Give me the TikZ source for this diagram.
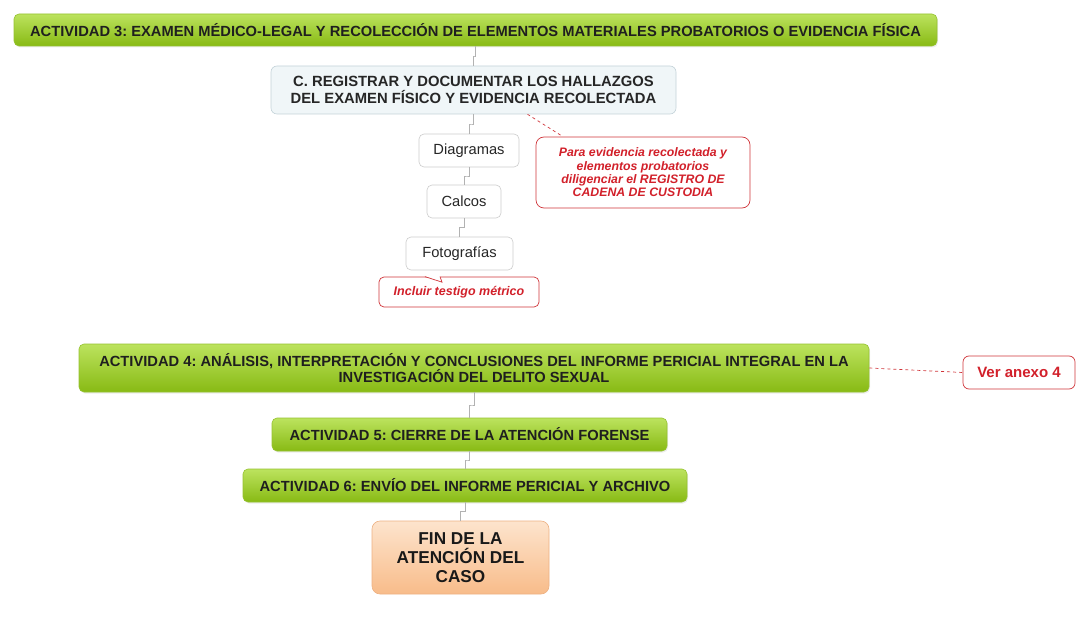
\documentclass[tikz,border=0pt]{standalone}
\usepackage{fontspec}
\setmainfont{Liberation Sans}
\usetikzlibrary{calc,shadows}
\definecolor{gtop}{HTML}{BCE35E}
\definecolor{gmid}{HTML}{9DCB20}
\definecolor{gbot}{HTML}{88BA14}
\definecolor{gline}{HTML}{95C230}
\definecolor{rline}{HTML}{D0353A}
\definecolor{rtext}{HTML}{D2202A}
\definecolor{cfill}{HTML}{F0F6F8}
\definecolor{cline}{HTML}{C3D2D8}
\definecolor{otop}{HTML}{FDE4CD}
\definecolor{obot}{HTML}{F8BC8A}
\definecolor{oline}{HTML}{EDB183}
\tikzset{
  greenbox/.style={draw=gline, rounded corners=5pt, top color=gtop, middle color=gmid, bottom color=gbot, line width=0.6pt,
    inner sep=0pt, align=center, font=\fontsize{14.7}{16.5}\selectfont\bfseries, text=black!88,
    drop shadow={opacity=0.15, shadow xshift=1pt, shadow yshift=-1.5pt}},
  whitebox/.style={draw=black!20, rounded corners=5pt, fill=white, line width=0.6pt,
    inner sep=0pt, align=center, font=\fontsize{14.7}{17}\selectfont, text=black!85},
  subbox/.style={draw=cline, rounded corners=6pt, fill=cfill, line width=0.6pt,
    inner sep=0pt, align=center, font=\fontsize{14.8}{16.5}\selectfont\bfseries, text=black!85},
  redbox/.style={draw=rline, rounded corners=8pt, fill=white, line width=0.7pt,
    inner sep=0pt, align=center, text=rtext},
  finbox/.style={draw=oline, rounded corners=8pt, top color=otop, bottom color=obot, line width=0.6pt,
    inner sep=0pt, align=center, font=\fontsize{17.2}{19}\selectfont\bfseries, text=black!90},
  conn/.style={draw=black!30, line width=0.6pt},
  rdash/.style={draw=rline, dashed, line width=0.7pt},
}
\begin{document}
\frenchspacing
\begin{tikzpicture}[x=1pt,y=-1pt]
\useasboundingbox (0,0) rectangle (1092,628);
\node[greenbox, minimum width=923pt, minimum height=32pt] (a3) at (475.5,30)
  {ACTIVIDAD 3: EXAMEN MÉDICO-LEGAL Y RECOLECCIÓN DE ELEMENTOS MATERIALES PROBATORIOS O EVIDENCIA FÍSICA};
\node[subbox, minimum width=405pt, minimum height=48pt] (c) at (473.5,90)
  {C. REGISTRAR Y DOCUMENTAR LOS HALLAZGOS\\DEL EXAMEN FÍSICO Y EVIDENCIA RECOLECTADA};
\node[whitebox, minimum width=100pt, minimum height=33pt] (diag) at (469,150.5) {Diagramas};
\node[whitebox, minimum width=74pt, minimum height=33pt] (calc) at (464,201.5) {Calcos};
\node[whitebox, minimum width=107pt, minimum height=33pt] (foto) at (459.5,253.5) {Fotografías};
\node[redbox, minimum width=214pt, minimum height=71pt, font=\fontsize{12.3}{13.4}\selectfont\bfseries\itshape] (cust) at (643,172.5)
  {Para evidencia recolectada y\\elementos probatorios\\diligenciar el REGISTRO DE\\CADENA DE CUSTODIA};
\node[redbox, rounded corners=5pt, minimum width=160pt, minimum height=30pt, font=\fontsize{12.5}{14}\selectfont\bfseries\itshape] (incl) at (459,292)
  {Incluir testigo métrico};
\node[greenbox, minimum width=790pt, minimum height=48pt] (a4) at (474,368)
  {ACTIVIDAD 4: ANÁLISIS, INTERPRETACIÓN Y CONCLUSIONES DEL INFORME PERICIAL INTEGRAL EN LA\\INVESTIGACIÓN DEL DELITO SEXUAL};
\node[redbox, rounded corners=6pt, minimum width=112pt, minimum height=33pt, font=\fontsize{15}{17}\selectfont\bfseries] (ver) at (1019,372.5)
  {Ver anexo 4};
\node[greenbox, minimum width=395pt, minimum height=33pt] (a5) at (469.5,434.5)
  {ACTIVIDAD 5: CIERRE DE LA ATENCIÓN FORENSE};
\node[greenbox, minimum width=444pt, minimum height=33pt] (a6) at (465,485.5)
  {ACTIVIDAD 6: ENVÍO DEL INFORME PERICIAL Y ARCHIVO};
\node[finbox, minimum width=177pt, minimum height=73pt] (fin) at (460.5,557.5)
  {FIN DE LA\\ATENCIÓN DEL\\CASO};
% connectors
\draw[conn] (a3.south) |- ($(a3.south)!0.5!(c.north)$) -| (c.north);
\draw[conn] (c.south) |- ($(c.south)!0.5!(diag.north)$) -| (diag.north);
\draw[conn] (diag.south) |- ($(diag.south)!0.5!(calc.north)$) -| (calc.north);
\draw[conn] (calc.south) |- ($(calc.south)!0.5!(foto.north)$) -| (foto.north);
\draw[conn] (a4.south) |- ($(a4.south)!0.5!(a5.north)$) -| (a5.north);
\draw[conn] (a5.south) |- ($(a5.south)!0.5!(a6.north)$) -| (a6.north);
\draw[conn] (a6.south) |- ($(a6.south)!0.5!(fin.north)$) -| (fin.north);
% red connectors
\draw[rdash] ([xshift=54pt]c.south) -- ([xshift=-80pt]cust.north);
\draw[rdash] (a4.east) -- (ver.west);
\fill[white] ([xshift=-34pt,yshift=0.6pt]incl.north) -- ([xshift=-17pt,yshift=-5.5pt]incl.north) -- ([xshift=-19pt,yshift=0.6pt]incl.north) -- cycle;
\draw[draw=rline, line width=0.7pt] ([xshift=-34pt]incl.north) -- ([xshift=-17pt,yshift=-5.5pt]incl.north) -- ([xshift=-19pt]incl.north);
\end{tikzpicture}
\end{document}
